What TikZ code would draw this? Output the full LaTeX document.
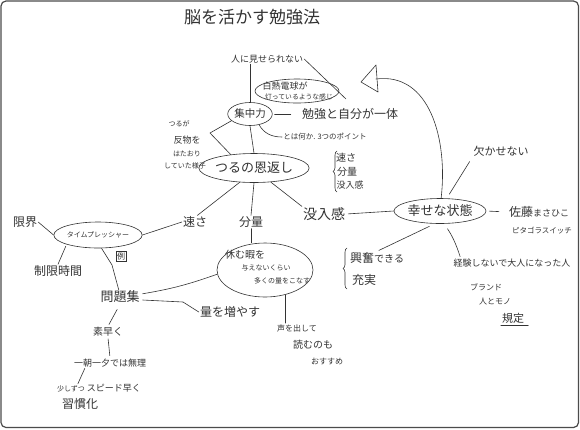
\documentclass[tikz,border=0pt]{standalone}
\usepackage{fontspec}
\setmainfont{Noto Sans CJK JP}
\usetikzlibrary{shapes.geometric,decorations.pathreplacing}
\definecolor{ink}{HTML}{333333}
\newcommand\myfs[1]{\fontsize{#1}{#1}\selectfont}
\tikzset{
  lbl/.style={inner sep=1pt, text=ink},
  oval/.style={ellipse, draw=ink, line width=0.6pt, inner sep=0pt, text=ink},
  ln/.style={draw=ink, line width=0.6pt, line cap=round, line join=round},
  brc/.style={ln, decorate, decoration={brace, amplitude=4pt}},
}
\begin{document}
\begin{tikzpicture}[x=1pt,y=-1pt]
\fill[white] (0,0) rectangle (580,429);
\useasboundingbox (0,0) rectangle (580,429);
\draw[draw=black!70, line width=1.2pt, rounded corners=5pt] (1,1) rectangle (578.5,427.5);

% ---- nodes ----
\node[lbl,font=\myfs{17}] (title) at (252,17) {脳を活かす勉強法};
\node[lbl,font=\myfs{9}] (mise) at (267,59) {人に見せられない};
\node[oval, minimum width=84pt, minimum height=24pt] (bulb) at (297,91) {};
\node[lbl,font=\myfs{9}] (bulb1) at (285,86) {白熱電球が};
\node[lbl,font=\myfs{6.8}] (bulb2) at (299,97) {灯っているような感じ};
\node[oval, minimum width=38pt, minimum height=23pt, font=\myfs{10.5}] (shu) at (250,114) {集中力};
\node[lbl,font=\myfs{12}] (ittai) at (350,114) {勉強と自分が一体};
\node[lbl,font=\myfs{7.5}] (pt3) at (325,137) {とは何か. 3つのポイント};
\node[lbl,font=\myfs{7}] (t1) at (179,124) {つるが};
\node[lbl,font=\myfs{9}] (t2) at (187,140) {反物を};
\node[lbl,font=\myfs{7}] (t3) at (187,154) {はたおり};
\node[lbl,font=\myfs{7}] (t4) at (185,166) {していた様子};
\node[oval, minimum width=88pt, minimum height=29pt, font=\myfs{13}] (ong) at (254,168) {つるの恩返し};
\node[lbl,font=\myfs{10}] (b1) at (346,158) {速さ};
\node[lbl,font=\myfs{10}] (b2) at (347,172) {分量};
\node[lbl,font=\myfs{9}] (b3) at (350,185) {没入感};
\node[lbl,font=\myfs{12}] (haya) at (195,222) {速さ};
\node[lbl,font=\myfs{12}] (bun) at (251,222) {分量};
\node[lbl,font=\myfs{14}] (botsu) at (324,214) {没入感};
\node[oval, minimum width=80pt, minimum height=25pt, font=\myfs{13}] (shia) at (440,211) {幸せな状態};
\node[lbl,font=\myfs{11}] (kaka) at (501,151) {欠かせない};
\node[lbl,font=\myfs{12}, anchor=west] (sato) at (508,212) {佐藤{\myfs{9}まさひこ}};
\node[lbl,font=\myfs{7.5}] (pita) at (542,231) {ピタゴラスイッチ};
\node[lbl,font=\myfs{12}, anchor=west] (kofun) at (349,258) {興奮{\myfs{10}できる}};
\node[lbl,font=\myfs{12}, anchor=west] (juji) at (351,280) {充実};
\node[lbl,font=\myfs{9}] (keiken) at (512,263) {経験しないで大人になった人};
\node[lbl,font=\myfs{8}] (brand) at (486,287) {ブランド};
\node[lbl,font=\myfs{8}] (hito) at (495,302) {人とモノ};
\node[lbl,font=\myfs{11}] (kitei) at (513,318) {規定};
\node[lbl,font=\myfs{12}] (gen) at (25,222) {限界};
\node[oval, minimum width=72pt, minimum height=26pt, font=\myfs{7}] (time) at (98,235) {タイムプレッシャー};
\node[lbl, draw=ink, line width=0.5pt, inner sep=1.2pt, font=\myfs{8}] (rei) at (121,256) {例};
\node[lbl,font=\myfs{12}] (seigen) at (58,271) {制限時間};
\node[lbl,font=\myfs{13}] (mondai) at (120,297) {問題集};
\node[oval, minimum width=96pt, minimum height=54pt] (yasu) at (265,270) {};
\node[lbl,font=\myfs{10}] (y1) at (245,255) {休む暇を};
\node[lbl,font=\myfs{7}] (y2) at (266,268) {与えないくらい};
\node[lbl,font=\myfs{7}] (y3) at (282,281) {多くの量をこなす};
\node[lbl,font=\myfs{12}] (ryo) at (230,312) {量を増やす};
\node[lbl,font=\myfs{8}] (koe) at (297,328) {声を出して};
\node[lbl,font=\myfs{10}] (yomu) at (313,345) {読むのも};
\node[lbl,font=\myfs{8}] (osu) at (327,362) {おすすめ};
\node[lbl,font=\myfs{10}] (suba) at (108,332) {素早く};
\node[lbl,font=\myfs{9}] (iccho) at (110,363) {一朝一夕では無理};
\node[lbl,font=\myfs{9}] (suko) at (99,388) {{\myfs{7}少しずつ}\ スピード早く};
\node[lbl,font=\myfs{12}] (shukan) at (80,404) {習慣化};

% ---- coordinates ----
\coordinate (bulbtail) at (346,99);
\coordinate (bend1) at (210,133);
\coordinate (bend2) at (112,265);
\coordinate (bend3) at (183,302);
\coordinate (arrbase) at (376,79);
\coordinate (arrtip) at (361,82);
\coordinate (arrtop) at (376,65);
\coordinate (arrbot) at (378,92);

% ---- connectors ----
\draw[ln] (mise.south -| shu.north) -- (shu.north);
\draw[ln] (shu.south) -- (ong.north);
\draw[ln] (ong.south) -- (bun.north);
\draw[ln] (mise.east) -- (bulbtail);
\draw[ln, shorten <=2pt, shorten >=10pt] (shu.east) -- (ittai.west);
\draw[ln] (shu.-50) to[out=-60,in=180] (pt3.west);
\draw[ln] (shu.200) -- (bend1) -- (ong.150);
\draw[ln] (ong.225) -- (haya.70);
\draw[ln] (ong.-40) -- (botsu.north west);
\draw[ln, shorten <=2pt] (botsu.east) -- (shia.west);
\draw[ln] (shia.85) .. controls (448,140) and (430,72) .. (arrbase);
\draw[ln] (arrtip) -- (arrtop) -- (arrbot) -- cycle;
\draw[ln, shorten <=5pt, shorten >=5pt] (shia.62) -- (kaka.south west);
\draw[ln, shorten <=3pt, shorten >=9pt] (shia.east) -- (sato.west);
\draw[ln, shorten <=6pt, shorten >=2pt] (shia.-112) -- (kofun.north);
\draw[ln, shorten <=6pt, shorten >=1pt] (shia.-72) to[bend left=8] ([xshift=8pt]keiken.north west);
\draw[ln] (gen.east) -- (time.west);
\draw[ln] (time.east) -- (haya.west);
\draw[ln, shorten <=2pt] (time.south west) -- (seigen.north);
\draw[ln] (time.-75) -- (bend2) -- (mondai.100);
\draw[ln, shorten <=2pt] (mondai.8) to[bend right=5] (yasu.185);
\draw[ln, shorten <=2pt] (mondai.-8) -- (bend3) -- (ryo.west);
\draw[ln] (bun.south) -- (bun.south |- yasu.north);
\draw[ln] (yasu.-51) -- (yasu.-51 |- koe.north);
\draw[ln, shorten <=6pt, shorten >=2pt] (mondai.south) -- (suba.north);
\draw[ln, shorten <=1pt, shorten >=2pt] (suba.south) -- (iccho.north);
\draw[ln] ([xshift=12pt]iccho.south west) -- ([xshift=22pt,yshift=-1pt]suko.north west);

% ---- braces & underline ----
\draw[brc] (337,192) -- (337,151);
\draw[brc] (347,289) -- (347,248);
\draw[ln] ([yshift=-1pt]kitei.south west) -- ([yshift=-1pt,xshift=3pt]kitei.south east);
\end{tikzpicture}
\end{document}
